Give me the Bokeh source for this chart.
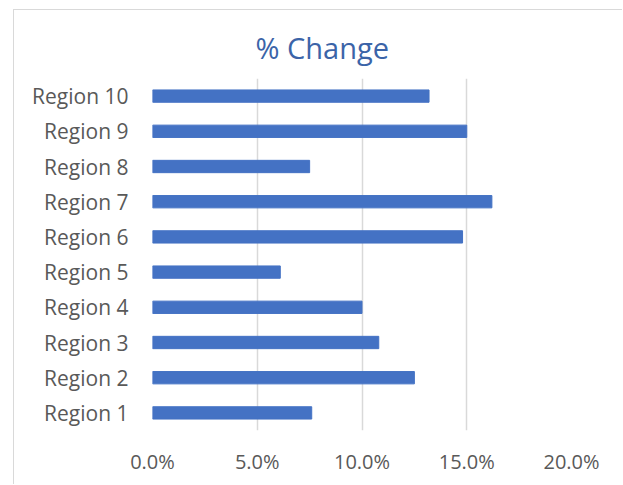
from bokeh.plotting import figure
from bokeh.models import FixedTicker, NumeralTickFormatter, Range1d, Title
from bokeh.embed import file_html
from bokeh.resources import INLINE

categories = ["Region 1", "Region 2", "Region 3", "Region 4", "Region 5",
              "Region 6", "Region 7", "Region 8", "Region 9", "Region 10"]
values = [0.076, 0.125, 0.108, 0.100, 0.061, 0.148, 0.162, 0.075, 0.150, 0.132]
x_ticks = [0.0, 0.05, 0.10, 0.15, 0.20]
title_text = "% Change"

FONT = "Open Sans"
GRAY = "#595959"

p = figure(width=609, height=475, y_range=categories, x_range=Range1d(0, 0.2),
           output_backend="svg", toolbar_location=None, title=None,
           min_border_left=138, min_border_right=52, min_border_top=68, min_border_bottom=55)
p.styles = {"margin-left": "13px", "margin-top": "9px",
            "border-left": "1px solid #D9D9D9", "border-top": "1px solid #D9D9D9"}

p.hbar(y=categories, right=values, left=0, height=0.35, color="#4472C4")

p.outline_line_color = None
p.ygrid.grid_line_color = None
p.xgrid.grid_line_color = "#D9D9D9"
p.xgrid.grid_line_width = 1.5
p.xaxis.ticker = FixedTicker(ticks=x_ticks)
p.xaxis.formatter = NumeralTickFormatter(format="0.0%")

for ax in (p.xaxis, p.yaxis):
    ax.axis_line_color = None
    ax.major_tick_line_color = None
    ax.minor_tick_line_color = None
    ax.major_tick_out = 0
    ax.major_label_text_font = FONT
    ax.major_label_text_font_size = "20px"
    ax.major_label_text_color = GRAY
p.yaxis.major_label_text_font_size = "21px"
p.yaxis.major_label_standoff = 24
p.xaxis.major_label_standoff = 17

p.add_layout(Title(text=title_text, align="left", offset=103, standoff=23,
                   text_font=FONT, text_font_size="29px", text_font_style="normal",
                   text_color="#3B64A8"), "above")

open("out.html", "w").write(file_html(p, INLINE))
